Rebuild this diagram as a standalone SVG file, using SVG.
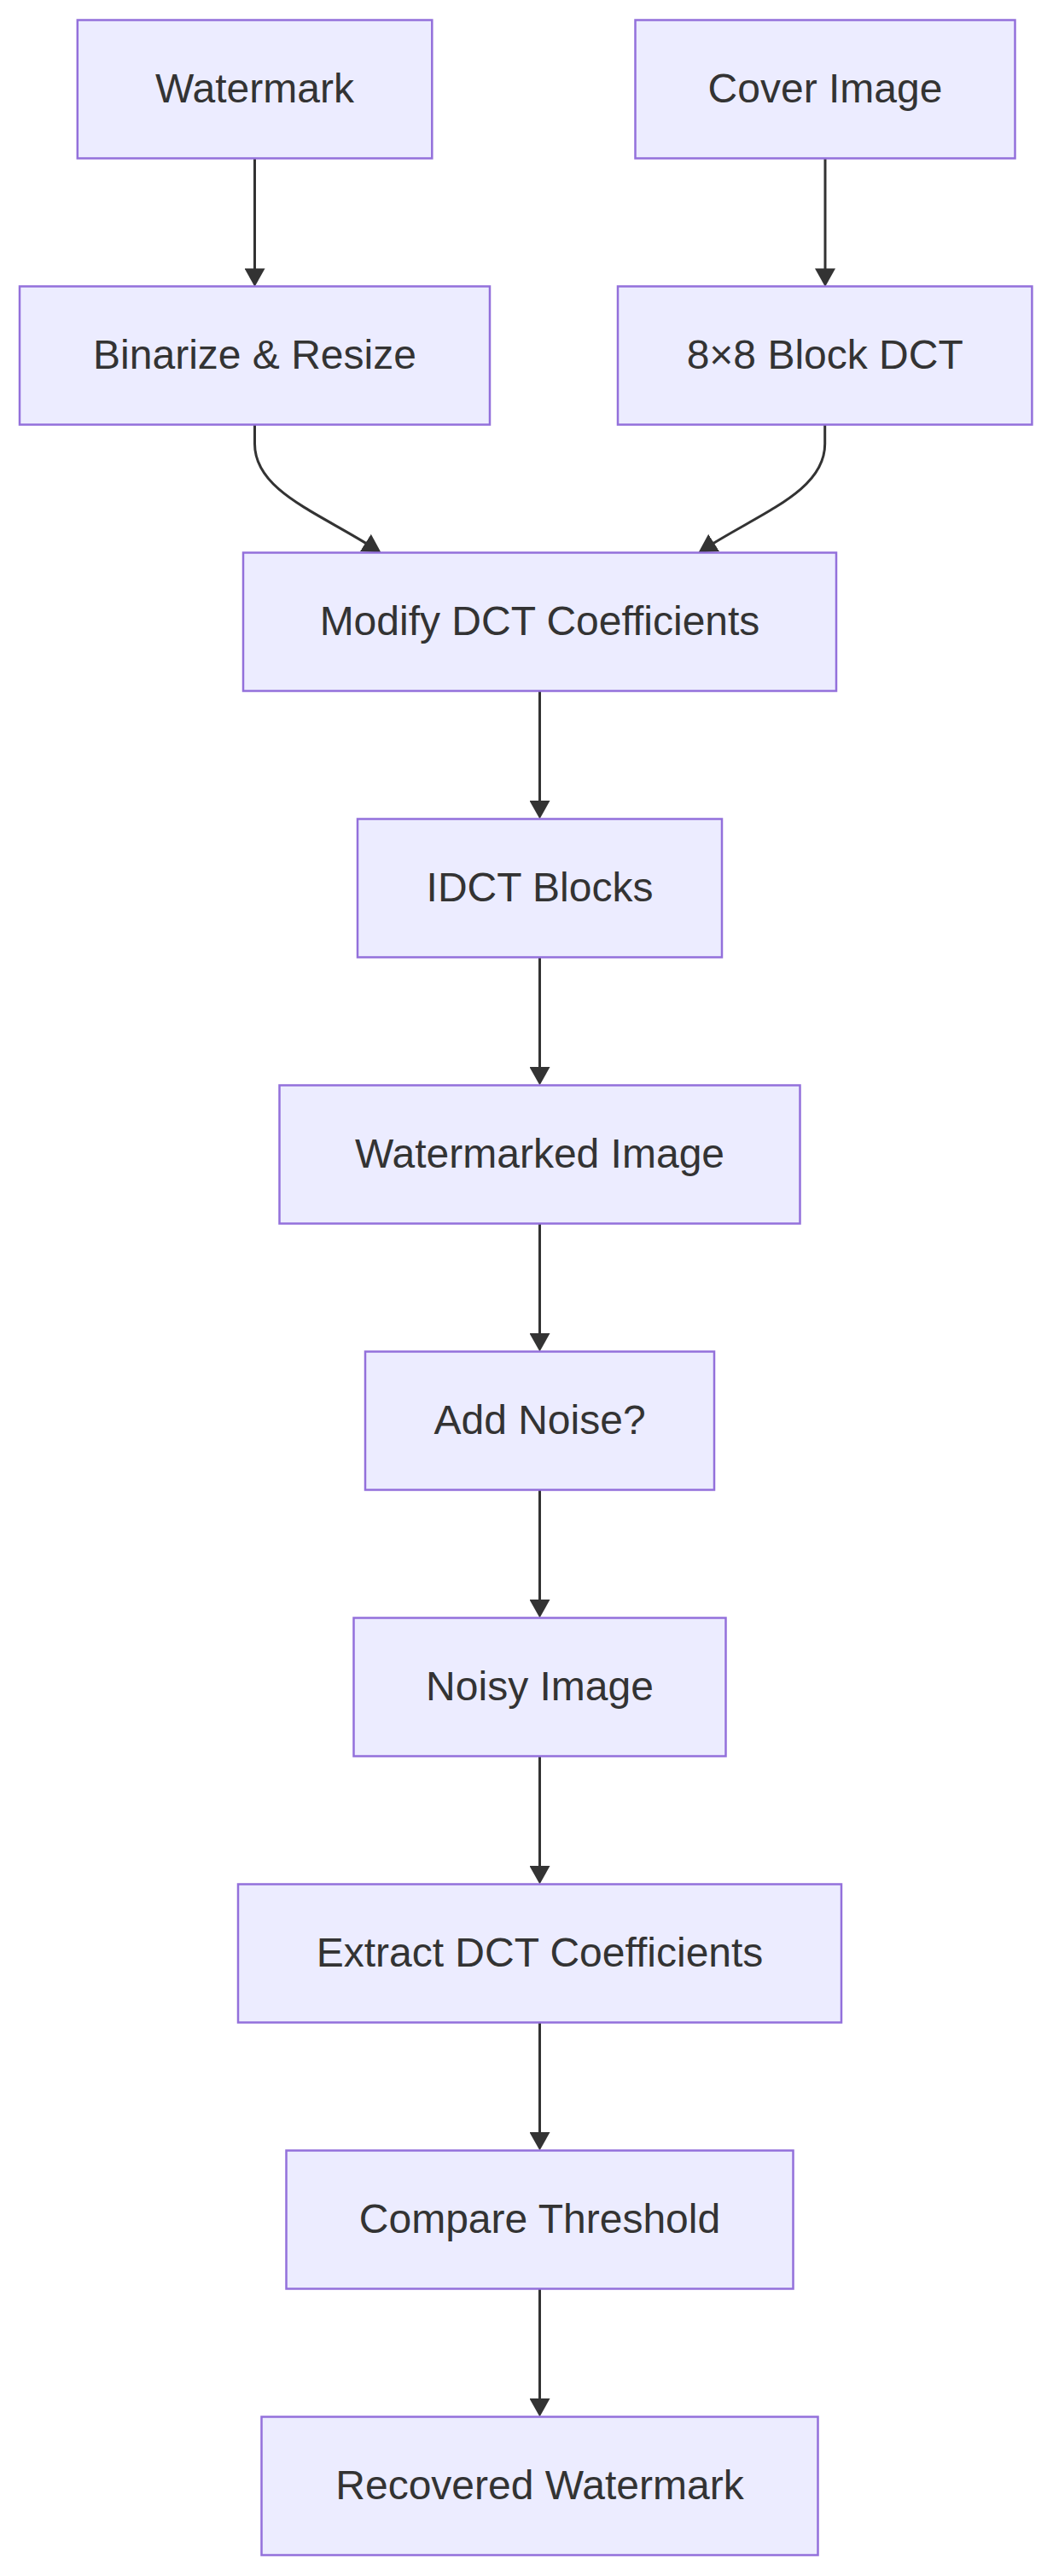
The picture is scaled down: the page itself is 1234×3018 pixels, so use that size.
<svg xmlns="http://www.w3.org/2000/svg" width="1234" height="3018" viewBox="0 0 1234 3018">
<style>
.node rect{fill:#ECECFF;stroke:#9370DB;stroke-width:2.5}
.node text{font-family:"Liberation Sans",Arial,sans-serif;font-size:48px;fill:#333333;text-anchor:middle}
.edges path{fill:none;stroke:#333333;stroke-width:3}
</style>
<defs>
<marker id="arrow" viewBox="0 0 10 10" refX="5" refY="5" markerUnits="userSpaceOnUse" markerWidth="24" markerHeight="24" orient="auto">
<path d="M0,0 L9,5 L0,10 z" fill="#333333"/>
</marker>
</defs>
<rect width="1234" height="3018" fill="#ffffff"/>
<g class="edges">
<path d="M298.5,185.5 L298.5,326.4" marker-end="url(#arrow)"/>
<path d="M967,185.5 L967,326.4" marker-end="url(#arrow)"/>
<path d="M298.5,498 L298.5,520 C298.5,575 372,600 438.5,642.4" marker-end="url(#arrow)"/>
<path d="M966.7,498 L966.7,520 C966.7,575 893,600 826.5,642.4" marker-end="url(#arrow)"/>
<path d="M632.5,809.5 L632.5,950" marker-end="url(#arrow)"/>
<path d="M632.5,1121.5 L632.5,1262" marker-end="url(#arrow)"/>
<path d="M632.5,1433.5 L632.5,1574" marker-end="url(#arrow)"/>
<path d="M632.5,1745.5 L632.5,1886" marker-end="url(#arrow)"/>
<path d="M632.5,2057.5 L632.5,2198" marker-end="url(#arrow)"/>
<path d="M632.5,2369.5 L632.5,2510" marker-end="url(#arrow)"/>
<path d="M632.5,2681.5 L632.5,2822" marker-end="url(#arrow)"/>
</g>
<g id="node-watermark" class="node"><rect x="90.8" y="23.5" width="415.5" height="162"/><text x="298.5" y="120">Watermark</text></g>
<g id="node-cover" class="node"><rect x="744.5" y="23.5" width="445" height="162"/><text x="967" y="120">Cover Image</text></g>
<g id="node-binarize" class="node"><rect x="23" y="335.5" width="551" height="162"/><text x="298.5" y="432">Binarize &amp; Resize</text></g>
<g id="node-blockdct" class="node"><rect x="724" y="335.5" width="485.4" height="162"/><text x="966.7" y="432">8×8 Block DCT</text></g>
<g id="node-modify" class="node"><rect x="285" y="647.5" width="695" height="162"/><text x="632.5" y="744">Modify DCT Coefficients</text></g>
<g id="node-idct" class="node"><rect x="419" y="959.5" width="427" height="162"/><text x="632.5" y="1056">IDCT Blocks</text></g>
<g id="node-watermarked" class="node"><rect x="327.5" y="1271.5" width="610" height="162"/><text x="632.5" y="1368">Watermarked Image</text></g>
<g id="node-addnoise" class="node"><rect x="428" y="1583.5" width="409" height="162"/><text x="632.5" y="1680">Add Noise?</text></g>
<g id="node-noisy" class="node"><rect x="414.5" y="1895.5" width="436" height="162"/><text x="632.5" y="1992">Noisy Image</text></g>
<g id="node-extract" class="node"><rect x="279" y="2207.5" width="707" height="162"/><text x="632.5" y="2304">Extract DCT Coefficients</text></g>
<g id="node-compare" class="node"><rect x="335.5" y="2519.5" width="594" height="162"/><text x="632.5" y="2616">Compare Threshold</text></g>
<g id="node-recovered" class="node"><rect x="306.5" y="2831.5" width="652" height="162"/><text x="632.5" y="2928">Recovered Watermark</text></g>
</svg>
